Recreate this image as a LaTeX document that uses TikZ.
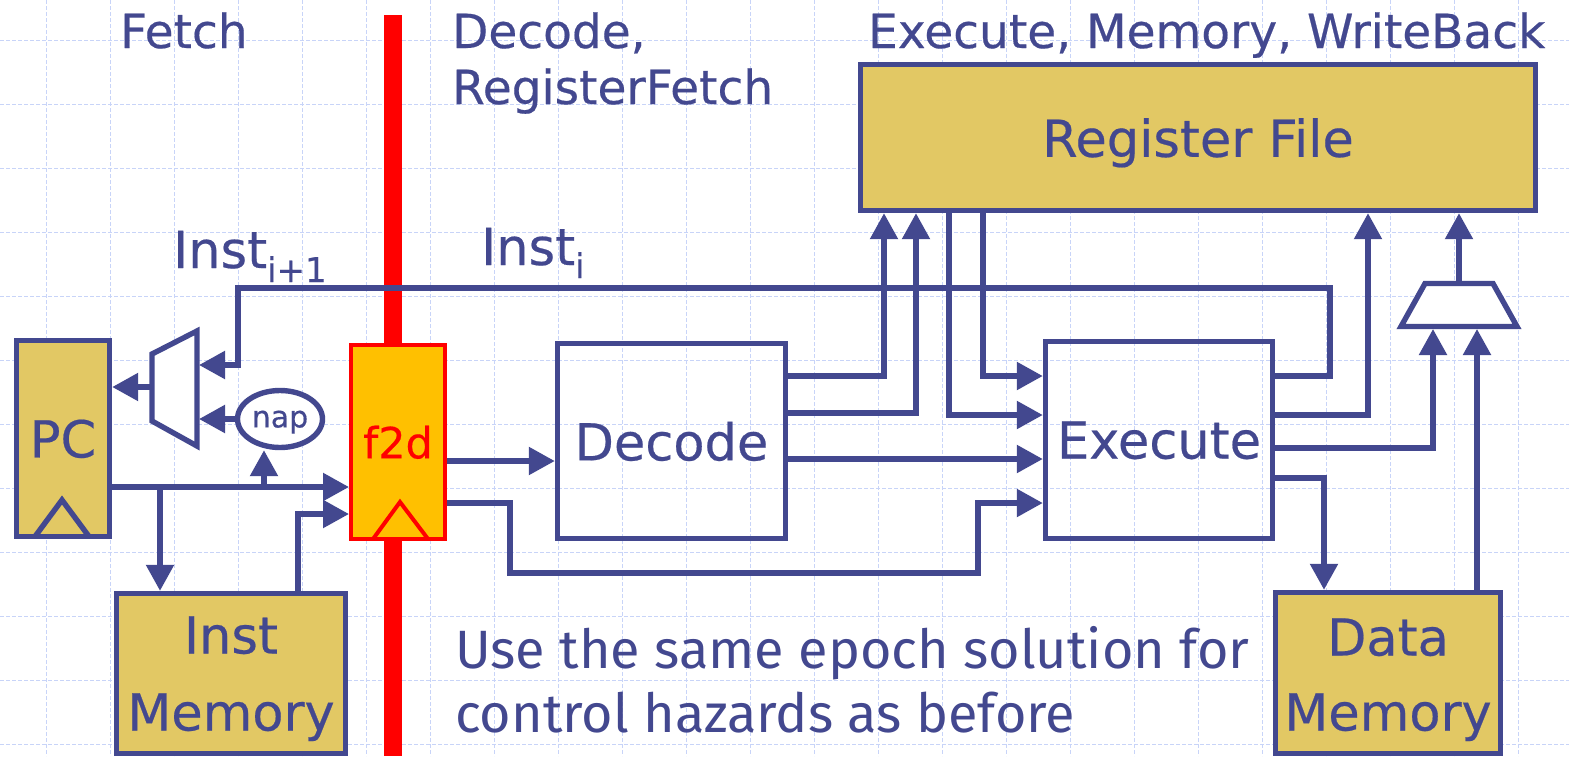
\documentclass[tikz,border=0pt]{standalone}
\usepackage{fontspec}
\setmainfont{DejaVu Sans}[FakeBold=0.4]
\newfontfamily\handfont{Fira Sans}
\usetikzlibrary{arrows.meta,shapes.geometric}
\definecolor{ink}{RGB}{67,72,143}
\definecolor{gold}{RGB}{226,200,100}
\definecolor{regfill}{RGB}{255,192,0}
\definecolor{gridc}{RGB}{200,212,248}
\newcommand\fsz[1]{\fontsize{#1}{#1}\selectfont}
\begin{document}
\begin{tikzpicture}[x=1pt,y=-1pt,
  wire/.style={draw=ink,line width=5.4pt,line join=miter,-{Triangle[length=26pt,width=27pt]}},
  plain/.style={draw=ink,line width=5.4pt,line join=miter},
  box/.style={draw=ink,line width=5.4pt,inner sep=0pt,text=ink,text depth=0pt},
  head/.style={text=ink,font=\fsz{47},inner sep=0pt,anchor=base west},
  lbl/.style={text=ink,font=\fsz{51},inner sep=0pt,anchor=base},
  gridline/.style={draw=gridc,line width=1pt,dash pattern=on 4pt off 2pt}]
\useasboundingbox (0,0) rectangle (1569,756);
% background grid
\foreach \x in {46,110,...,1518} \draw[gridline] (\x,0) -- (\x,756);
\foreach \y in {40,104,...,744} \draw[gridline] (0,\y) -- (1569,\y);
% pipeline register bar
\fill[red] (384,15) rectangle (402,756);
% boxes
\node[box,fill=gold,minimum width=93pt,minimum height=196pt,font=\fsz{51}] (pc) at (63,438.5) {PC};
\node[box,fill=gold,minimum width=229pt,minimum height=160pt] (im) at (231,673.5) {};
\node[lbl] (imt1) at (231,653.5) {Inst};
\node[lbl] (imt2) at (231,730.5) {Memory};
\node[draw=red,line width=4pt,fill=regfill,minimum width=94pt,minimum height=194pt,inner sep=0pt,text=red,font=\fsz{43},text depth=0pt] (f2d) at (398,442) {f2d};
\node[box,minimum width=228pt,minimum height=195pt,font=\fsz{51}] (dec) at (671.5,441) {Decode};
\node[box,minimum width=227pt,minimum height=197pt,font=\fsz{51}] (exe) at (1159,440) {Execute};
\node[box,fill=gold,minimum width=675pt,minimum height=146pt,font=\fsz{51}] (rf) at (1198,137.5) {Register File};
\node[box,fill=gold,minimum width=225pt,minimum height=161pt] (dm) at (1388,673) {};
\node[lbl] (dmt1) at (1388,655.5) {Data};
\node[lbl] (dmt2) at (1388,730.5) {Memory};
\node[ellipse,draw=ink,fill=white,line width=5.4pt,minimum width=85pt,minimum height=57pt,inner sep=0pt,text=ink,font=\fsz{30},text depth=0pt] (nap) at (280,419) {nap};
% clock triangles
\draw[plain] (35,536.5) -- (62,500) -- (89,536.5);
\draw[red,line width=4pt,line join=miter] (373,539) -- (400,502) -- (428,539);
% muxes
\draw[plain,fill=white] (152,354) -- (197,331) -- (197,446) -- (152,421) -- cycle;
\coordinate (lmo) at (150,387);
\coordinate (lmi1) at (199,365);
\coordinate (lmi2) at (199,419);
\draw[plain,fill=white] (1425,283.5) -- (1493,283.5) -- (1517,326.5) -- (1401,326.5) -- cycle;
\coordinate (rmo) at (1459,281);
\coordinate (rmi1) at (1433,329);
\coordinate (rmi2) at (1477,329);
% connectors
\draw[wire] (exe.east |- 0,376) -- (1330,376) -- (1330,288) -- (238,288) -- (238,365) -- (lmi1);
\draw[wire] (nap.west) -- (lmi2);
\draw[wire] (lmo) -- (pc.east |- lmo);
\draw[wire] (pc.east |- 0,487) -- (f2d.west |- 0,487);
\draw[wire] (160,487) -- (im.north -| 160,0);
\draw[wire] (264,487) -- (nap.south -| 264,0);
\draw[wire] (im.north -| 298,0) -- (298,514) -- (f2d.west |- 0,514);
\draw[wire] (f2d.east |- 0,461) -- (dec.west |- 0,461);
\draw[wire] (f2d.east |- 0,503) -- (510,503) -- (510,573) -- (978,573) -- (978,503) -- (exe.west |- 0,503);
\draw[wire] (dec.east |- 0,376) -- (884,376) -- (rf.south -| 884,0);
\draw[wire] (dec.east |- 0,413) -- (916,413) -- (rf.south -| 916,0);
\draw[wire] (dec.east |- 0,459) -- (exe.west |- 0,459);
\draw[wire] (rf.south -| 949,0) -- (949,415) -- (exe.west |- 0,415);
\draw[wire] (rf.south -| 983,0) -- (983,376) -- (exe.west |- 0,376);
\draw[wire] (exe.east |- 0,415) -- (1368,415) -- (rf.south -| 1368,0);
\draw[wire] (exe.east |- 0,448) -- (1433,448) -- (rmi1);
\draw[wire] (exe.east |- 0,478) -- (1324,478) -- (dm.north -| 1324,0);
\draw[wire] (dm.north -| 1477,0) -- (rmi2);
\draw[wire] (rmo) -- (rf.south -| 1459,0);
% texts
\node[head] (hf) at (120,48) {Fetch};
\node[head] (hd1) at (452,48) {Decode,};
\node[head] (hd2) at (452,104) {RegisterFetch};
\node[head] (he) at (868,48) {Execute, Memory, WriteBack};
\node[anchor=base west,inner sep=0pt,text=ink] (ii1) at (173,268) {\fsz{51}Inst\raisebox{-14pt}{\fsz{34}i+1}};
\node[anchor=base west,inner sep=0pt,text=ink] (ii) at (481,265) {\fsz{51}Inst\raisebox{-13pt}{\fsz{34}i}};
\node[anchor=base west,inner sep=0pt,text=ink,font=\handfont\fsz{54}] (note1) at (455,668) {Use the same epoch solution for};
\node[anchor=base west,inner sep=0pt,text=ink,font=\handfont\fsz{54}] (note2) at (455,732) {control hazards as before};
\end{tikzpicture}
\end{document}
